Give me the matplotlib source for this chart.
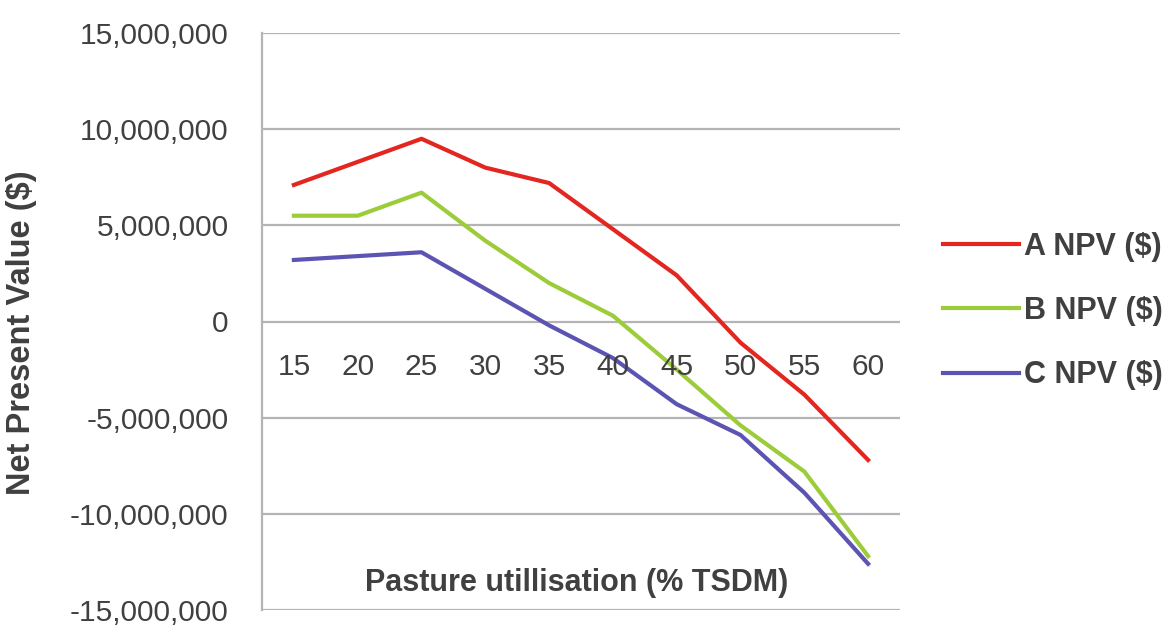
import numpy as np
import matplotlib.pyplot as plt
from matplotlib.ticker import FuncFormatter

# dane
utilisation = [15, 20, 25, 30, 35, 40, 45, 50, 55, 60]
npv_a = [7.1e6, 8.3e6, 9.5e6, 8.0e6, 7.2e6, 4.8e6, 2.4e6, -1.1e6, -3.8e6, -7.2e6]
npv_b = [5.5e6, 5.5e6, 6.7e6, 4.2e6, 2.0e6, 0.3e6, -2.5e6, -5.4e6, -7.8e6, -12.2e6]
npv_c = [3.2e6, 3.4e6, 3.6e6, 1.7e6, -0.2e6, -1.9e6, -4.3e6, -5.9e6, -8.9e6, -12.6e6]
series_names = ['A NPV ($)', 'B NPV ($)', 'C NPV ($)']
series_colors = ['#e3261f', '#9ccc3a', '#5c54b2']
y_ticks = [-15e6, -10e6, -5e6, 0, 5e6, 10e6, 15e6]

plt.rcParams['font.family'] = ['Liberation Sans', 'DejaVu Sans']
text_col = '#404040'
grid_col = '#b4b4b4'

fig = plt.figure(figsize=(11.7, 6.28), dpi=100)
ax = fig.add_axes([262/1170, 1 - 610/628, 638/1170, 577/628])

x = np.arange(len(utilisation))
for vals, name, col in zip([npv_a, npv_b, npv_c], series_names, series_colors):
    ax.plot(x, vals, color=col, lw=3.0, label=name, solid_joinstyle='round')

ax.set_xlim(-0.5, len(utilisation) - 0.5)
ax.set_ylim(-15e6, 15e6)
ax.set_yticks(y_ticks)
ax.yaxis.set_major_formatter(FuncFormatter(lambda v, p: f'{v:,.0f}'))
ax.tick_params(axis='y', length=0, pad=24, labelsize=21.5, labelcolor=text_col)
ax.set_xticks([])

for s in ['top', 'right', 'bottom']:
    ax.spines[s].set_visible(False)
ax.spines['left'].set_color(grid_col)
ax.spines['left'].set_linewidth(1.6)
ax.grid(axis='y', color=grid_col, lw=1.6)
ax.set_axisbelow(True)

# etykiety kategorii wewnątrz wykresu, pod linią zera
for xi, lab in zip(x, utilisation):
    ax.text(xi, -2.35e6, str(lab), ha='center', va='center', fontsize=21.5, color=text_col)

ax.text(0.493, 0.047, 'Pasture utillisation (% TSDM)', transform=ax.transAxes,
        ha='center', va='center', fontsize=22, fontweight='bold', color=text_col)

ax.set_ylabel('Net Present Value ($)', fontsize=23.5, fontweight='bold', color=text_col)
ax.yaxis.set_label_coords(-0.352, 0.48)

leg = ax.legend(loc='center left', bbox_to_anchor=(943/1170, 1 - 311/628),
                bbox_transform=fig.transFigure, frameon=False, handlelength=2.5,
                handletextpad=0.15, labelspacing=1.12, borderaxespad=0, borderpad=0,
                prop={'size': 22, 'weight': 'bold'})
for t in leg.get_texts():
    t.set_color(text_col)

fig.savefig('out.png', dpi=100)
